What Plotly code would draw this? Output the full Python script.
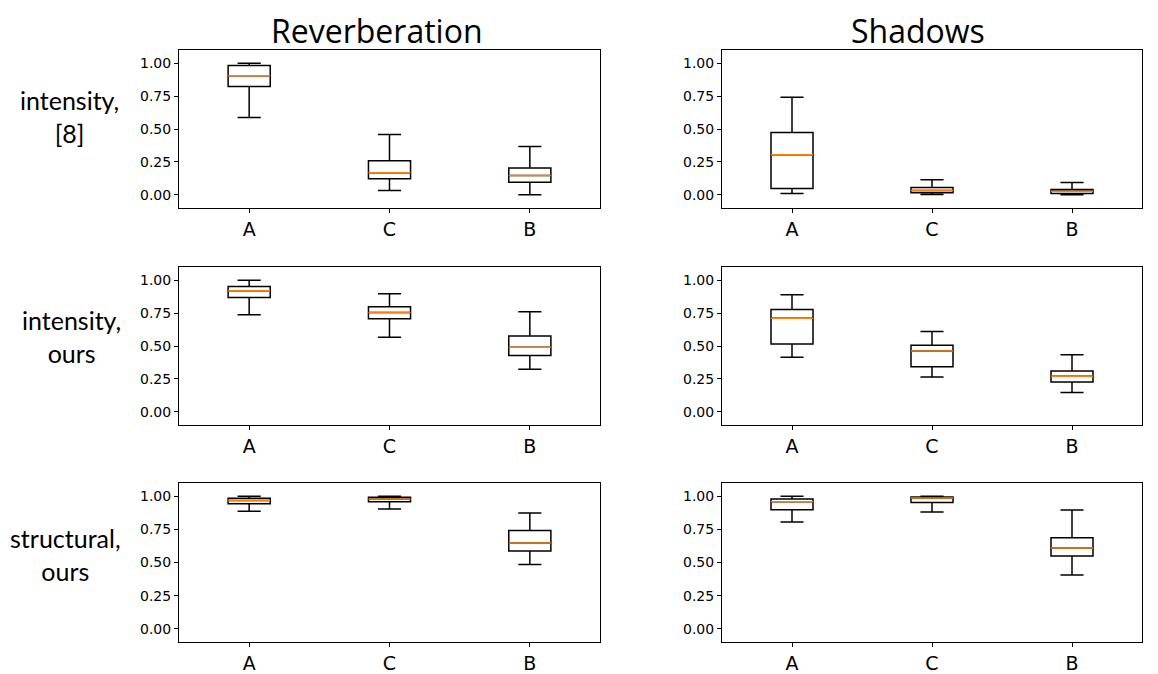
import plotly.graph_objects as go
from plotly.subplots import make_subplots

categories = ["A", "C", "B"]
positions = [1, 2, 3]
columns = ["Reverberation", "Shadows"]
rows = ["intensity,<br>[8]", "intensity,<br>ours", "structural,<br>ours"]
ytick_vals = [0.0, 0.25, 0.5, 0.75, 1.0]
ytick_text = ["0.00", "0.25", "0.50", "0.75", "1.00"]

# Reverberation, intensity [8]
rev_int8_low = [0.587, 0.033, 0.000]
rev_int8_q1 = [0.823, 0.122, 0.096]
rev_int8_med = [0.904, 0.167, 0.147]
rev_int8_q3 = [0.982, 0.258, 0.203]
rev_int8_high = [1.000, 0.458, 0.367]

# Shadows, intensity [8]
sha_int8_low = [0.010, 0.003, 0.000]
sha_int8_q1 = [0.048, 0.015, 0.010]
sha_int8_med = [0.304, 0.033, 0.028]
sha_int8_q3 = [0.473, 0.056, 0.040]
sha_int8_high = [0.742, 0.114, 0.094]

# Reverberation, intensity ours
rev_into_low = [0.737, 0.566, 0.323]
rev_into_q1 = [0.869, 0.707, 0.427]
rev_into_med = [0.919, 0.755, 0.490]
rev_into_q3 = [0.952, 0.798, 0.576]
rev_into_high = [1.000, 0.896, 0.760]

# Shadows, intensity ours
sha_into_low = [0.414, 0.265, 0.146]
sha_into_q1 = [0.515, 0.343, 0.227]
sha_into_med = [0.710, 0.462, 0.270]
sha_into_q3 = [0.778, 0.505, 0.311]
sha_into_high = [0.889, 0.611, 0.434]

# Reverberation, structural ours
rev_str_low = [0.886, 0.904, 0.484]
rev_str_q1 = [0.944, 0.959, 0.587]
rev_str_med = [0.967, 0.980, 0.648]
rev_str_q3 = [0.985, 0.992, 0.742]
rev_str_high = [1.000, 1.000, 0.873]

# Shadows, structural ours
sha_str_low = [0.805, 0.881, 0.405]
sha_str_q1 = [0.899, 0.952, 0.549]
sha_str_med = [0.959, 0.987, 0.610]
sha_str_q3 = [0.980, 0.995, 0.686]
sha_str_high = [1.000, 1.000, 0.896]

panels = [
    [(rev_int8_low, rev_int8_q1, rev_int8_med, rev_int8_q3, rev_int8_high),
     (sha_int8_low, sha_int8_q1, sha_int8_med, sha_int8_q3, sha_int8_high)],
    [(rev_into_low, rev_into_q1, rev_into_med, rev_into_q3, rev_into_high),
     (sha_into_low, sha_into_q1, sha_into_med, sha_into_q3, sha_into_high)],
    [(rev_str_low, rev_str_q1, rev_str_med, rev_str_q3, rev_str_high),
     (sha_str_low, sha_str_q1, sha_str_med, sha_str_q3, sha_str_high)],
]

# page body has an 8px margin; the figure is offset by it
OFF = 8
W, H = 1158 - OFF, 674 - OFF
BOX_W = 0.3
col_x = [(179, 600), (722, 1142)]
row_y = [(50, 208), (267, 425), (483, 642)]


def px(v):
    return (v - OFF) / W


def py(v):
    return 1 - (v - OFF) / H


fig = make_subplots(rows=3, cols=2)

for r in range(3):
    for c in range(2):
        low, q1, med, q3, high = panels[r][c]
        fig.add_trace(go.Box(
            x=positions, lowerfence=low, q1=q1, median=med, q3=q3, upperfence=high,
            width=BOX_W, whiskerwidth=0.55, boxpoints=False,
            line=dict(color="black", width=1.5), fillcolor="rgba(255,255,255,0)",
            showlegend=False, hoverinfo="skip",
        ), row=r + 1, col=c + 1)
        mx, my = [], []
        for p, m in zip(positions, med):
            mx += [p - BOX_W / 2, p + BOX_W / 2, None]
            my += [m, m, None]
        fig.add_trace(go.Scatter(
            x=mx, y=my, mode="lines", line=dict(color="#ff7f0e", width=1.5),
            showlegend=False, hoverinfo="skip",
        ), row=r + 1, col=c + 1)

axis_common = dict(showline=True, mirror=True, linecolor="black", linewidth=1,
                   ticks="outside", ticklen=4, tickcolor="black", tickwidth=1,
                   showgrid=False, zeroline=False)

for r in range(3):
    for c in range(2):
        idx = r * 2 + c + 1
        xa = "xaxis" if idx == 1 else f"xaxis{idx}"
        ya = "yaxis" if idx == 1 else f"yaxis{idx}"
        x0, x1 = col_x[c]
        y0, y1 = row_y[r]
        fig.layout[xa].update(domain=[px(x0), px(x1)], range=[0.5, 3.5],
                              tickvals=positions, ticktext=categories,
                              tickfont=dict(family="DejaVu Sans", size=19, color="black"),
                              **axis_common)
        fig.layout[ya].update(domain=[py(y1), py(y0)], range=[-0.1, 1.1],
                              tickvals=ytick_vals, ticktext=ytick_text,
                              tickfont=dict(family="DejaVu Sans", size=14, color="black"),
                              **axis_common)

annotations = []
title_pos = [(377, 30), (918, 30)]
for name, (tx, ty) in zip(columns, title_pos):
    annotations.append(dict(text=name, x=px(tx), y=py(ty), xref="paper", yref="paper",
                            xanchor="center", yanchor="middle", showarrow=False,
                            font=dict(family="Open Sans", size=32, color="black")))
row_pos = [(69, 116), (71, 336), (65, 554)]
for name, (tx, ty) in zip(rows, row_pos):
    annotations.append(dict(text=name, x=px(tx), y=py(ty), xref="paper", yref="paper",
                            xanchor="center", yanchor="middle", showarrow=False, align="center",
                            font=dict(family="Lato", size=25, color="black")))

fig.update_layout(width=W, height=H, margin=dict(l=0, r=0, t=0, b=0),
                  paper_bgcolor="white", plot_bgcolor="white",
                  annotations=annotations, showlegend=False)

fig.write_html("out.html")
